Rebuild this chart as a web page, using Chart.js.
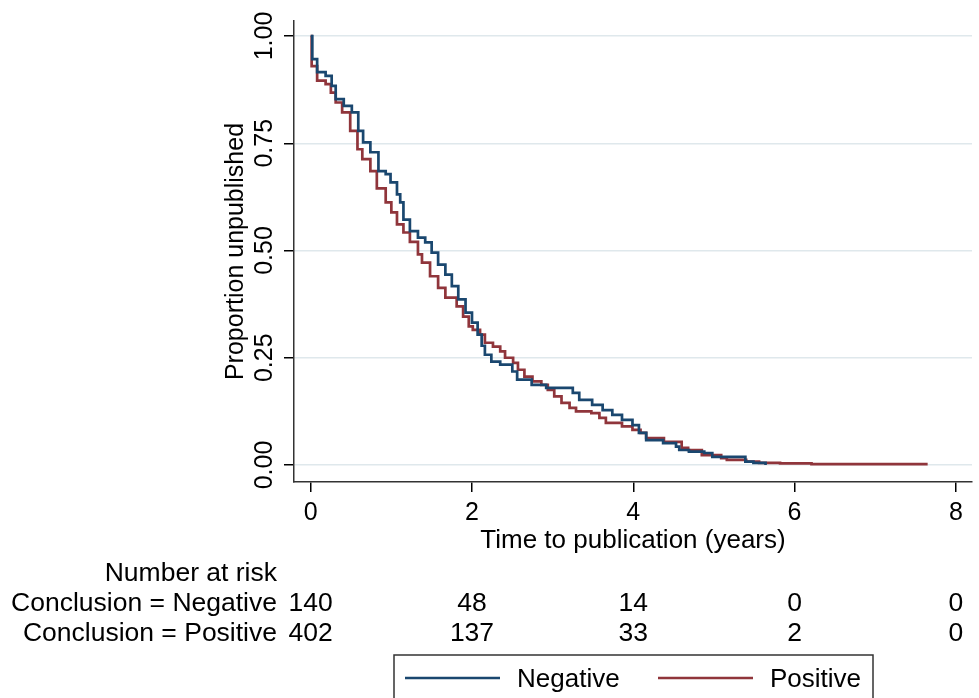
<!DOCTYPE html>
<html>
<head>
<meta charset="utf-8">
<script src="https://cdn.jsdelivr.net/npm/chart.js@4/dist/chart.umd.min.js"></script>
<style>
  html, body { margin: 0; padding: 0; background: #fff; }
  #out { display: block; }
</style>
</head>
<body>
<canvas id="out" width="979" height="698"></canvas>
<script>
// Kaplan-Meier steps: time (years) and proportion after the drop
const negTime = [0, 0.02, 0.08, 0.185, 0.26, 0.31, 0.41, 0.51, 0.59, 0.65, 0.74, 0.84, 0.93, 0.99, 1.07, 1.11, 1.15, 1.23, 1.33, 1.42, 1.50, 1.58, 1.67, 1.75, 1.83, 1.92, 2.00, 2.07, 2.12, 2.16, 2.24, 2.35, 2.50, 2.56, 2.74, 2.92, 3.25, 3.33, 3.49, 3.62, 3.74, 3.86, 3.99, 4.07, 4.16, 4.37, 4.53, 4.57, 4.69, 4.88, 4.98, 5.39, 5.49, 5.64];
const negSurv = [1.0, 0.946, 0.916, 0.907, 0.884, 0.853, 0.837, 0.822, 0.779, 0.752, 0.729, 0.685, 0.678, 0.659, 0.631, 0.612, 0.572, 0.545, 0.530, 0.519, 0.495, 0.467, 0.444, 0.417, 0.386, 0.355, 0.332, 0.304, 0.278, 0.257, 0.241, 0.234, 0.218, 0.199, 0.187, 0.180, 0.168, 0.152, 0.140, 0.128, 0.117, 0.105, 0.093, 0.075, 0.058, 0.051, 0.043, 0.035, 0.031, 0.028, 0.019, 0.008, 0.005, 0.0];

const posTime = [0, 0.012, 0.08, 0.185, 0.25, 0.31, 0.39, 0.49, 0.58, 0.64, 0.74, 0.82, 0.93, 1.0, 1.07, 1.15, 1.23, 1.33, 1.38, 1.48, 1.58, 1.67, 1.81, 1.89, 1.96, 2.01, 2.10, 2.16, 2.26, 2.35, 2.41, 2.51, 2.57, 2.65, 2.75, 2.86, 2.94, 3.02, 3.11, 3.21, 3.29, 3.48, 3.58, 3.66, 3.86, 3.99, 4.09, 4.16, 4.38, 4.60, 4.68, 4.85, 5.09, 5.16, 5.40, 5.56, 5.82, 6.21, 7.65];
const posSurv = [1.0, 0.93, 0.896, 0.888, 0.868, 0.845, 0.822, 0.779, 0.736, 0.713, 0.685, 0.645, 0.612, 0.589, 0.561, 0.542, 0.52, 0.491, 0.472, 0.44, 0.413, 0.39, 0.37, 0.346, 0.323, 0.315, 0.304, 0.285, 0.276, 0.265, 0.25, 0.238, 0.222, 0.206, 0.195, 0.187, 0.175, 0.16, 0.145, 0.133, 0.125, 0.121, 0.11, 0.098, 0.09, 0.082, 0.075, 0.063, 0.054, 0.04, 0.035, 0.023, 0.016, 0.012, 0.008, 0.005, 0.004, 0.002, 0.002];

const xTicks = [0, 2, 4, 6, 8];
const yTicks = [0, 0.25, 0.5, 0.75, 1];
const yTickLabels = ["0.00", "0.25", "0.50", "0.75", "1.00"];

const seriesNames = ["Negative", "Positive"];
const riskTitle = "Number at risk";
const riskRowLabels = ["Conclusion = Negative", "Conclusion = Positive"];
const riskNegative = [140, 48, 14, 0, 0];
const riskPositive = [402, 137, 33, 2, 0];

const FONT = '"Liberation Sans", Arial, sans-serif';
const BLUE = "#1a476f";
const RED = "#90353b";

function toPoints(ts, vs) {
  return ts.map((t, i) => ({ x: t, y: vs[i] }));
}

// number-at-risk table and boxed legend under the axis
const riskTable = {
  id: "riskTable",
  afterDraw(chart) {
    const ctx = chart.ctx;
    const xs = chart.scales.x;
    ctx.save();
    ctx.font = "26.5px " + FONT;
    ctx.fillStyle = "#000";
    ctx.textBaseline = "middle";

    ctx.textAlign = "right";
    ctx.fillText(riskTitle, 277, 574);
    const rows = [riskNegative, riskPositive];
    rows.forEach((row, r) => {
      const y = 604 + r * 30;
      ctx.textAlign = "right";
      ctx.fillText(riskRowLabels[r], 277, y);
      ctx.textAlign = "center";
      row.forEach((n, i) => ctx.fillText(String(n), xs.getPixelForValue(xTicks[i]), y));
    });

    // legend box
    ctx.font = "26px " + FONT;
    ctx.strokeStyle = "#333";
    ctx.lineWidth = 1.5;
    ctx.strokeRect(394, 655, 479, 60);
    const items = [[405, 517], [658, 770]];
    chart.data.datasets.forEach((ds, i) => {
      ctx.strokeStyle = ds.borderColor;
      ctx.lineWidth = 2.5;
      ctx.beginPath();
      ctx.moveTo(items[i][0], 678);
      ctx.lineTo(items[i][0] + 95, 678);
      ctx.stroke();
      ctx.textAlign = "left";
      ctx.fillText(ds.label, items[i][1], 680);
    });
    ctx.restore();
  }
};

const ctx = document.getElementById("out").getContext("2d");
const chart = new Chart(ctx, {
  type: "line",
  data: {
    datasets: [
      {
        label: seriesNames[0],
        data: toPoints(negTime, negSurv),
        borderColor: BLUE,
        borderWidth: 2.7,
        stepped: true,
        pointRadius: 0,
        fill: false
      },
      {
        label: seriesNames[1],
        data: toPoints(posTime, posSurv),
        borderColor: RED,
        borderWidth: 2.7,
        stepped: true,
        pointRadius: 0,
        fill: false
      }
    ]
  },
  options: {
    responsive: false,
    animation: false,
    layout: { padding: { top: 21, right: 7, left: 0, bottom: 144 } },
    plugins: {
      legend: { display: false },
      tooltip: { enabled: false }
    },
    scales: {
      x: {
        type: "linear",
        min: -0.207,
        max: 8.2,
        afterBuildTicks: s => { s.ticks = xTicks.map(v => ({ value: v })); },
        afterFit: s => { s.height = 72; },
        ticks: {
          font: { family: FONT, size: 25 },
          color: "#000",
          padding: 6,
          maxRotation: 0,
          callback: v => String(v)
        },
        grid: {
          drawOnChartArea: false,
          drawTicks: true,
          tickLength: 10,
          color: "#000",
          lineWidth: 1.5
        },
        border: { display: true, color: "#333", width: 1.5 },
        title: {
          display: true,
          text: "Time to publication (years)",
          font: { family: FONT, size: 26 },
          color: "#000",
          padding: { top: 0, bottom: -2 }
        }
      },
      y: {
        min: -0.0396,
        max: 1.035,
        afterBuildTicks: s => { s.ticks = yTicks.map(v => ({ value: v })); },
        afterFit: s => { s.width = 294; },
        ticks: {
          font: { family: FONT, size: 25 },
          color: "#000",
          padding: -5,
          minRotation: 90,
          maxRotation: 90,
          crossAlign: "center",
          callback: v => yTickLabels[yTicks.indexOf(v)]
        },
        grid: {
          color: "#dfe8ec",
          lineWidth: 1.5,
          drawTicks: true,
          tickLength: 10,
          tickColor: "#000",
          tickWidth: 1.5
        },
        border: { display: true, color: "#333", width: 1.5 },
        title: {
          display: true,
          text: "Proportion unpublished",
          font: { family: FONT, size: 25 },
          color: "#000",
          padding: { top: 221, bottom: 0 }
        }
      }
    }
  },
  plugins: [riskTable]
});
</script>
</body>
</html>
